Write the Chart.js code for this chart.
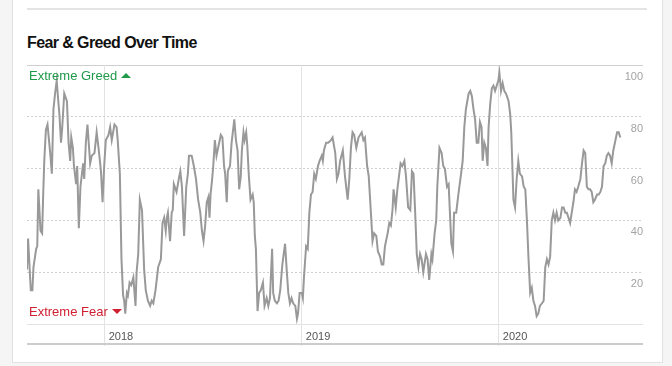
<!DOCTYPE html>
<html lang="en">
<head>
<meta charset="UTF-8">
<title>Fear &amp; Greed Over Time</title>
<script src="https://cdn.jsdelivr.net/npm/chart.js"></script>
<style>
    body {
        margin: 0;
        background: #f5f5f5;
        font-family: "Liberation Sans", Arial, sans-serif;
        overflow: hidden;
    }
    .card {
        position: absolute;
        left: 12px;
        top: -10px;
        width: 649px;
        height: 371px;
        background: #fff;
        border: 1px solid #e2e2e2;
    }
    .rule {
        position: absolute;
        left: 27px;
        top: 8px;
        width: 620px;
        height: 2px;
        background: #e4e4e4;
    }
    h2 {
        position: absolute;
        left: 27px;
        top: 34px;
        margin: 0;
        font-size: 16px;
        font-weight: bold;
        letter-spacing: -0.6px;
        color: #111;
    }
    .topline {
        position: absolute;
        left: 27px;
        top: 65px;
        width: 616px;
        height: 1px;
        background: #cfcfcf;
    }
    .bottomline {
        position: absolute;
        left: 27px;
        top: 343px;
        width: 616px;
        height: 2px;
        background: #cccccc;
    }
    #fgChart {
        position: absolute;
        left: 27px;
        top: 60px;
    }
    .zone {
        position: absolute;
        left: 29px;
        font-size: 13px;
        line-height: 15px;
        z-index: 2;
    }
    .zone i {
        display: inline-block;
        width: 0;
        height: 0;
        margin-left: 4px;
        vertical-align: 2px;
        border-left: 5px solid transparent;
        border-right: 5px solid transparent;
    }
    .greed { top: 68px; color: #1f9a4a; }
    .greed i { border-bottom: 5px solid #1f9a4a; }
    .fear { top: 304px; color: #cf1f30; }
    .fear i { border-top: 5px solid #cf1f30; }
</style>
</head>
<body>
    <div class="card"></div>
    <div class="rule"></div>
    <h2>Fear &amp; Greed Over Time</h2>
    <div class="topline"></div>
    <canvas id="fgChart" width="616" height="290"></canvas>
    <div class="bottomline"></div>
    <div class="zone greed">Extreme Greed<i></i></div>
    <div class="zone fear">Extreme Fear<i></i></div>
    <script>
        // days counted from startDate, one reading per entry
        const startDate = '2017-08-10';
        const lastDay = 1141;
        const days = [
            0, 2, 7, 10, 12, 17, 19, 21, 25, 28, 30, 32,
            35, 38, 43, 46, 49, 52, 55, 58, 60, 63, 65, 69,
            74, 77, 80, 82, 85, 87, 91, 93, 96, 99, 104, 106,
            109, 112, 117, 120, 125, 129, 133, 137, 140, 143, 146, 151,
            154, 157, 162, 166, 168, 172, 175, 178, 180, 182, 185, 187,
            190, 193, 197, 201, 203, 206, 209, 213, 217, 220, 224, 228,
            231, 234, 238, 243, 248, 251, 254, 257, 259, 261, 265, 268,
            270, 272, 277, 282, 284, 287, 291, 295, 298, 300, 305, 309,
            313, 317, 321, 324, 327, 330, 333, 336, 338, 340, 343, 345,
            348, 351, 354, 359, 362, 365, 367, 370, 372,
            376, 379, 384, 387, 390, 393, 396, 398, 401, 403, 406, 408,
            411, 414, 418, 420, 422, 424, 427, 430, 433, 437, 440, 444,
            447, 450, 454, 456, 459, 463, 466, 469, 473, 478, 481, 484,
            487, 490, 493, 497, 500, 502, 505, 509, 511, 513, 517, 520,
            523, 526, 529, 532, 535, 539, 542, 546, 548, 550, 554, 558,
            563, 566, 571, 574, 577, 580, 585, 589, 594, 597, 600, 603,
            606, 610, 614, 620, 623, 626, 630, 633, 637, 640, 643, 647,
            650, 654, 657, 660, 663, 668, 671, 674, 677, 679, 683, 686,
            689, 692, 695, 699, 702, 706, 710, 713, 716, 719, 722, 725,
            728, 731, 734, 739, 742, 745, 749, 751, 755, 758, 760, 764,
            768, 771, 774, 778, 781,
            784, 786, 789, 791, 795, 799, 804, 807, 810, 813, 818, 821,
            824, 827, 830, 833, 836, 839, 842, 844, 847, 850, 853, 855,
            858, 861, 864, 867, 870, 873, 875, 878, 881, 884, 887, 889,
            892, 895, 897, 899, 901, 904, 907, 910, 913, 917, 920, 923,
            926, 929, 932, 935, 938, 941, 944, 947, 950, 954, 957, 960,
            963, 966, 969, 972, 975, 978, 981, 984, 988, 991, 994, 997,
            1000, 1003, 1006, 1009, 1012, 1015, 1018, 1021, 1025, 1028, 1031, 1034,
            1037, 1040, 1043, 1046, 1049, 1052, 1056, 1059, 1062, 1065, 1068, 1071,
            1074, 1077, 1080, 1083, 1086, 1089, 1093, 1096, 1099
        ];
        const scores = [
            21, 33, 13, 13, 22, 29, 30, 52, 36, 35, 50, 63,
            75, 77, 66, 58, 83, 89, 94, 86, 81, 70, 75, 89,
            86, 70, 63, 72, 68, 61, 54, 61, 37, 53, 62, 56,
            70, 77, 62, 65, 66, 74, 67, 59, 47, 61, 71, 73,
            76, 71, 77, 76, 71, 58, 25, 11, 9, 4, 12, 11,
            16, 15, 18, 7, 20, 27, 48, 44, 21, 13, 9, 7,
            9, 8, 13, 22, 25, 39, 41, 36, 41, 43, 32, 43,
            44, 54, 51, 57, 59, 53, 34, 53, 58, 65, 65, 61,
            56, 48, 43, 36, 32, 38, 47, 49, 41, 50, 56, 61,
            71, 65, 68, 73, 72, 61, 58, 47, 59,
            61, 70, 79, 71, 67, 52, 57, 67, 74, 71, 74, 69,
            57, 48, 50, 47, 34, 29, 5, 12, 13, 16, 7, 10,
            7, 10, 29, 12, 9, 8, 9, 13, 23, 31, 21, 12,
            8, 10, 8, 7, 2, 4, 12, 12, 10, 18, 30, 29,
            43, 50, 51, 58, 56, 61, 63, 65, 63, 67, 70, 70,
            71, 72, 66, 56, 58, 63, 67, 57, 48, 56, 68, 74,
            73, 68, 72, 74, 71, 72, 61, 57, 43, 32, 35, 34,
            28, 26, 23, 23, 30, 35, 39, 38, 44, 52, 45, 52,
            57, 62, 61, 63, 57, 45, 44, 59, 58, 43, 27, 22,
            27, 25, 20, 27, 25, 17, 27, 25, 35, 40, 53, 68,
            66, 61, 60, 53, 54,
            40, 31, 28, 43, 43, 50, 58, 63, 76, 83, 89, 90,
            88, 83, 79, 70, 70, 78, 76, 63, 70, 68, 61, 76,
            85, 91, 92, 90, 92, 94, 97, 90, 93, 90, 89, 88,
            86, 81, 74, 61, 48, 45, 56, 63, 58, 57, 53, 52,
            40, 25, 12, 14, 9, 7, 3, 4, 7, 8, 9, 22,
            25, 23, 26, 40, 43, 40, 43, 40, 41, 45, 45, 43,
            43, 41, 39, 43, 47, 52, 51, 53, 56, 62, 67, 66,
            53, 52, 52, 51, 47, 48, 50, 50, 51, 53, 61, 62,
            65, 66, 65, 62, 67, 70, 74, 74, 72
        ];
        const yearLabels = ['2018', '2019', '2020'];

        function dayOf(dateStr) {
            return Math.round((Date.parse(dateStr) - Date.parse(startDate)) / 86400000);
        }
        const yearTicks = yearLabels.map(y => dayOf(y + '-01-01'));
        const points = days.map((d, i) => ({ x: d, y: scores[i] }));

        Chart.defaults.font.family = '"Liberation Sans", Arial, sans-serif';

        var ctx = document.getElementById('fgChart').getContext('2d');
        var fgChart = new Chart(ctx, {
            type: 'line',
            data: {
                datasets: [{
                    label: 'Fear & Greed',
                    data: points,
                    borderColor: '#999999',
                    borderWidth: 2,
                    pointRadius: 0,
                    tension: 0,
                    fill: false
                }]
            },
            options: {
                responsive: false,
                animation: false,
                layout: {
                    padding: { top: 5, left: 0, right: 0, bottom: 0 }
                },
                plugins: {
                    legend: { display: false },
                    tooltip: { enabled: false }
                },
                scales: {
                    x: {
                        type: 'linear',
                        min: 0,
                        max: lastDay,
                        afterBuildTicks: (scale) => {
                            scale.ticks = yearTicks.map(v => ({ value: v }));
                        },
                        afterFit: (scale) => {
                            scale.height = 26;
                            scale.paddingLeft = 0;
                            scale.paddingRight = 0;
                        },
                        grid: {
                            color: '#e3e3e3',
                            drawTicks: true,
                            tickLength: 22
                        },
                        border: { color: '#e3e3e3' },
                        ticks: {
                            align: 'start',
                            labelOffset: 4,
                            padding: -16,
                            maxRotation: 0,
                            autoSkip: false,
                            color: '#555555',
                            font: { size: 11 },
                            callback: (value, index) => yearLabels[index]
                        }
                    },
                    y: {
                        position: 'right',
                        min: 0,
                        max: 100,
                        afterFit: (scale) => {
                            scale.width = 0;
                            scale.paddingTop = 0;
                            scale.paddingBottom = 0;
                        },
                        grid: {
                            drawTicks: false,
                            color: (c) => (c.tick && c.tick.value > 0 && c.tick.value < 100) ? '#cfcfcf' : 'rgba(0,0,0,0)'
                        },
                        border: { display: false, dash: [2, 2] },
                        ticks: {
                            stepSize: 20,
                            mirror: true,
                            padding: 0,
                            labelOffset: 12,
                            color: '#a3a3a3',
                            font: { size: 11 },
                            callback: (value) => value === 0 ? '' : value
                        }
                    }
                }
            }
        });
    </script>
</body>
</html>
